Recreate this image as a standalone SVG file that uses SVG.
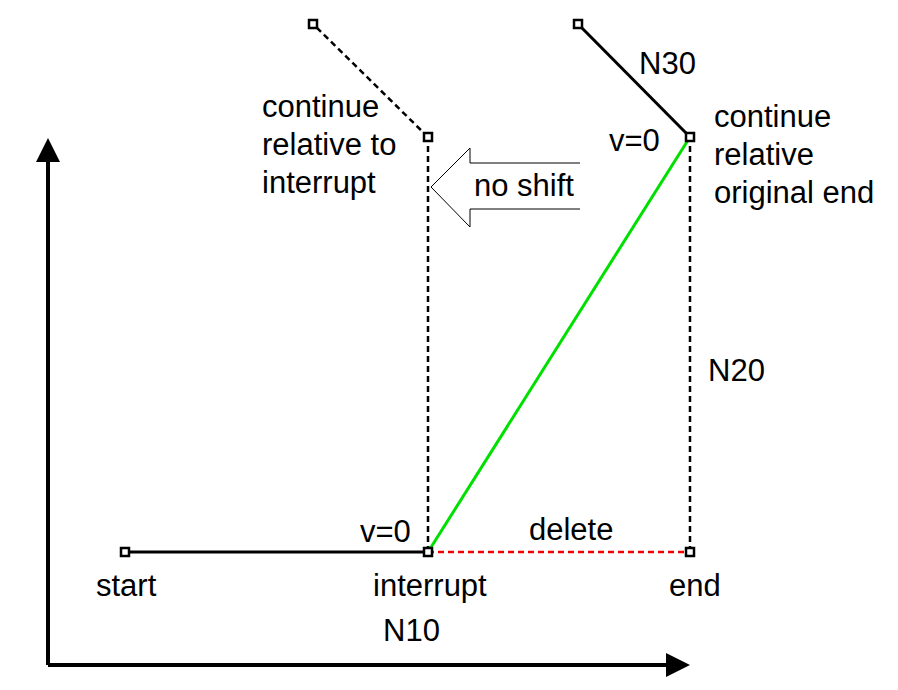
<svg xmlns="http://www.w3.org/2000/svg" width="898" height="690" viewBox="0 0 898 690">
<style>
text{font-family:"Liberation Sans",Arial,sans-serif;font-size:31px;fill:#000}
.s{stroke:#000;stroke-width:3;fill:none}
.d{stroke:#000;stroke-width:2.5;stroke-dasharray:6,4;fill:none}
.p{fill:#fff;stroke:#000;stroke-width:2.5}
</style>
<rect width="898" height="690" fill="#fff"/>
<g id="connectors">
<path d="M48,665H670" class="s" style="stroke-width:4"/>
<path d="M666,653L690,665L666,677z" fill="#000"/>
<path d="M48,665V158" class="s" style="stroke-width:4"/>
<path d="M36,162L48,138L60,162z" fill="#000"/>
<path class="s" d="M125,552H428"/>
<path d="M428,552H690" stroke="#e00" stroke-width="2.5" stroke-dasharray="6,4" fill="none"/>
<path d="M428,552L690,137" stroke="#00e000" stroke-width="3" fill="none"/>
<path class="d" d="M428,552V137"/>
<path class="d" d="M690,552V137"/>
<path class="d" d="M428,137L313,24"/>
<path class="s" d="M690,137L578,24"/>
<path d="M580,163H470V148L431,187L470,227V209H580" fill="#fff" stroke="#000" stroke-width="1"/>
</g>
<g id="nodes">
<rect class="p" x="121" y="548" width="8" height="8"/>
<rect class="p" x="424" y="548" width="8" height="8"/>
<rect class="p" x="686" y="548" width="8" height="8"/>
<rect class="p" x="424" y="133" width="8" height="8"/>
<rect class="p" x="686" y="133" width="8" height="8"/>
<rect class="p" x="309" y="20" width="8" height="8"/>
<rect class="p" x="574" y="20" width="8" height="8"/>
</g>
<g id="labels">
<text x="96" y="596">start</text>
<text x="373" y="596">interrupt</text>
<text x="669" y="596">end</text>
<text x="383" y="641">N10</text>
<text x="360" y="542">v=0</text>
<text x="529" y="540">delete</text>
<text x="708" y="381">N20</text>
<text x="639" y="74">N30</text>
<text x="609" y="151">v=0</text>
<text x="474" y="196">no shift</text>
<text x="262" y="117">continue</text>
<text x="262" y="155">relative to</text>
<text x="262" y="193">interrupt</text>
<text x="714" y="127">continue</text>
<text x="714" y="165">relative</text>
<text x="714" y="203">original end</text>
</g>
</svg>
